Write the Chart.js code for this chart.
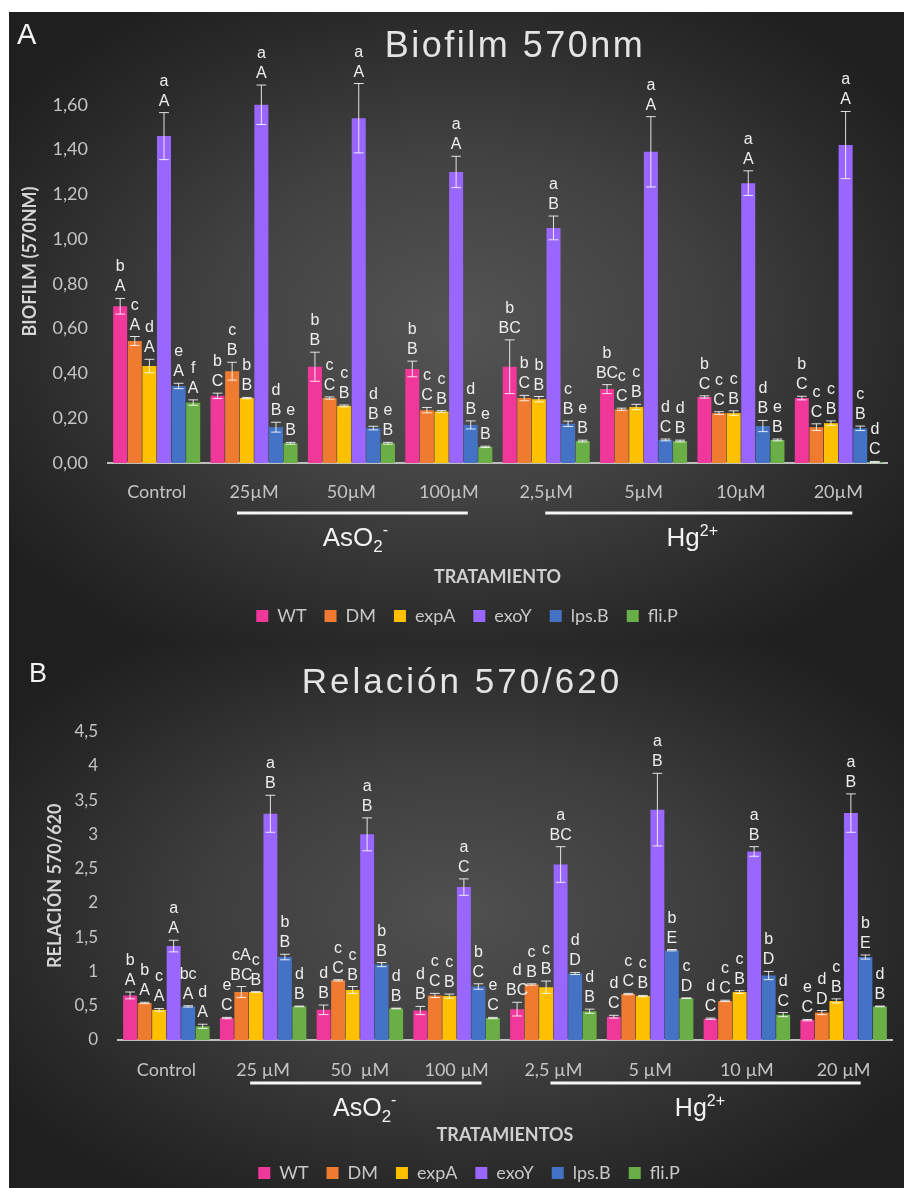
<!DOCTYPE html>
<html>
<head>
<meta charset="utf-8">
<script src="https://cdn.jsdelivr.net/npm/chart.js@4.4.1/dist/chart.umd.min.js"></script>
<style>
html, body { margin: 0; padding: 0; background: #fff; width: 904px; height: 1188px; overflow: hidden; position: relative; }
.bg { position: absolute; left: 9px; width: 895px; }
#bgA { top: 12px; height: 628px; background: radial-gradient(ellipse 62% 62% at 50% 50%, #545454 0%, #414141 45%, #2a2a2a 80%, #1f1f1f 100%); }
#bgB { top: 640px; height: 548px; background: radial-gradient(ellipse 62% 62% at 50% 50%, #505050 0%, #3e3e3e 45%, #292929 80%, #1f1f1f 100%); }
canvas { position: absolute; left: 9px; }
#chartA { top: 12px; }
#chartB { top: 640px; }
</style>
</head>
<body>
<div class="bg" id="bgA"></div>
<div class="bg" id="bgB"></div>
<canvas id="chartA" width="922" height="628"></canvas>
<canvas id="chartB" width="922" height="556"></canvas>
<script>
// ---- data ----
var seriesNames = ['WT', 'DM', 'expA', 'exoY', 'lps.B', 'fli.P'];

// A: Biofilm 570nm
var catsA = ['Control', '25µM', '50µM', '100µM', '2,5µM', '5µM', '10µM', '20µM'];
var wtA   = [0.70, 0.30, 0.43, 0.42, 0.43, 0.33, 0.295, 0.29];
var dmA   = [0.545, 0.41, 0.29, 0.236, 0.29, 0.24, 0.223, 0.16];
var expA  = [0.433, 0.29, 0.255, 0.23, 0.285, 0.25, 0.223, 0.178];
var exoA  = [1.46, 1.60, 1.54, 1.30, 1.05, 1.39, 1.25, 1.42];
var lpsA  = [0.344, 0.16, 0.156, 0.17, 0.175, 0.103, 0.165, 0.155];
var fliA  = [0.27, 0.088, 0.088, 0.072, 0.098, 0.098, 0.103, 0.005];
var wtErrA  = [0.035, 0.012, 0.065, 0.035, 0.12, 0.02, 0.005, 0.008];
var dmErrA  = [0.02, 0.04, 0.005, 0.012, 0.012, 0.005, 0.006, 0.015];
var expErrA = [0.03, 0.003, 0.004, 0.004, 0.012, 0.012, 0.01, 0.01];
var exoErrA = [0.105, 0.088, 0.155, 0.07, 0.053, 0.157, 0.055, 0.15];
var lpsErrA = [0.012, 0.022, 0.008, 0.018, 0.012, 0.004, 0.025, 0.01];
var fliErrA = [0.012, 0.004, 0.004, 0.003, 0.004, 0.004, 0.004, 0.002];
var wtSigA  = ['b/A', 'b/C', 'b/B', 'b/B', 'b/BC', 'b/BC', 'b/C', 'b/C'];
var dmSigA  = ['c/A', 'c/B', 'c/C', 'c/C', 'b/C', 'c/C', 'c/C', 'c/C'];
var expSigA = ['d/A', 'b/B', 'c/B', 'c/B', 'b/B', 'c/B', 'c/B', 'c/B'];
var exoSigA = ['a/A', 'a/A', 'a/A', 'a/A', 'a/B', 'a/A', 'a/A', 'a/A'];
var lpsSigA = ['e/A', 'd/B', 'd/B', 'd/B', 'c/B', 'd/C', 'd/B', 'c/B'];
var fliSigA = ['f/A', 'e/B', 'e/B', 'e/B', 'e/B', 'd/B', 'e/B', 'd/C'];

// B: Relación 570/620
var catsB = ['Control', '25 µM', '50  µM', '100 µM', '2,5 µM', '5 µM', '10 µM', '20 µM'];
var wtB   = [0.65, 0.32, 0.44, 0.43, 0.45, 0.34, 0.31, 0.29];
var dmB   = [0.54, 0.70, 0.87, 0.65, 0.81, 0.67, 0.57, 0.40];
var expB  = [0.44, 0.70, 0.73, 0.64, 0.77, 0.64, 0.70, 0.57];
var exoB  = [1.37, 3.30, 3.00, 2.23, 2.56, 3.36, 2.75, 3.31];
var lpsB  = [0.49, 1.21, 1.10, 0.78, 0.97, 1.31, 0.94, 1.21];
var fliB  = [0.20, 0.49, 0.46, 0.32, 0.42, 0.61, 0.37, 0.49];
var wtErrB  = [0.05, 0.01, 0.07, 0.06, 0.10, 0.02, 0.01, 0.01];
var dmErrB  = [0.01, 0.08, 0.01, 0.03, 0.01, 0.01, 0.01, 0.03];
var expErrB = [0.02, 0.005, 0.05, 0.03, 0.09, 0.01, 0.02, 0.03];
var exoErrB = [0.085, 0.27, 0.24, 0.12, 0.26, 0.53, 0.07, 0.28];
var lpsErrB = [0.01, 0.04, 0.03, 0.04, 0.015, 0.01, 0.06, 0.03];
var fliErrB = [0.03, 0.005, 0.005, 0.01, 0.03, 0.005, 0.03, 0.005];
var wtSigB  = ['b/A', 'e/C', 'd/B', 'd/B', 'd/BC', 'd/C', 'd/C', 'e/C'];
var dmSigB  = ['b/A', 'cA/BC', 'c/C', 'c/C', 'c/B', 'c/C', 'c/C', 'd/D'];
var expSigB = ['c/A', 'c/B', 'c/B', 'c/B', 'c/B', 'c/B', 'c/B', 'c/B'];
var exoSigB = ['a/A', 'a/B', 'a/B', 'a/C', 'a/BC', 'a/B', 'a/B', 'a/B'];
var lpsSigB = ['bc/A', 'b/B', 'b/B', 'b/C', 'd/D', 'b/E', 'b/D', 'b/E'];
var fliSigB = ['d/A', 'd/B', 'd/B', 'e/C', 'd/B', 'c/D', 'd/C', 'd/B'];

// ---- styling ----
var barColors = ['#F0379A', '#EE7B30', '#FFC000', '#9966FF', '#4472C4', '#6AAF45'];
Chart.defaults.font.family = 'Lato';
Chart.defaults.color = '#bfbfbf';

function makeSets(vals, errs, sigs) {
    return seriesNames.map(function (n, i) {
        return {
            label: n,
            data: vals[i],
            errors: errs[i],
            sig: sigs[i],
            backgroundColor: barColors[i],
            borderWidth: 0,
            categoryPercentage: 0.9,
            barPercentage: 0.96
        };
    });
}

// draws a run of text pieces (for sub/superscripts) centred on cx
function drawPieces(ctx, pieces, cx, base) {
    var total = 0;
    pieces.forEach(function (p) {
        ctx.font = p.size + 'px "Liberation Sans", Arial, sans-serif';
        p.w = ctx.measureText(p.t).width;
        total += p.w;
    });
    var x = cx - total / 2;
    ctx.textAlign = 'left';
    pieces.forEach(function (p) {
        ctx.font = p.size + 'px "Liberation Sans", Arial, sans-serif';
        ctx.fillText(p.t, x, base + p.dy);
        x += p.w;
    });
}

var extras = {
    id: 'extras',
    afterDatasetsDraw: function (chart) {
        var ctx = chart.ctx;
        var y = chart.scales.y;
        chart.data.datasets.forEach(function (ds, i) {
            var meta = chart.getDatasetMeta(i);
            meta.data.forEach(function (bar, j) {
                var v = ds.data[j], e = ds.errors[j];
                var yTop = y.getPixelForValue(v + e);
                var yBot = y.getPixelForValue(v - e);
                var cw = bar.width * 0.35;
                ctx.save();
                ctx.strokeStyle = 'rgba(255,255,255,0.85)';
                ctx.lineWidth = 1;
                ctx.beginPath();
                ctx.moveTo(bar.x, yTop); ctx.lineTo(bar.x, yBot);
                ctx.moveTo(bar.x - cw, yTop); ctx.lineTo(bar.x + cw, yTop);
                ctx.moveTo(bar.x - cw, yBot); ctx.lineTo(bar.x + cw, yBot);
                ctx.stroke();
                var parts = ds.sig[j].split('/');
                ctx.fillStyle = '#eeeeee';
                ctx.font = '16px "Liberation Sans", Arial, sans-serif';
                ctx.textAlign = 'center';
                ctx.textBaseline = 'alphabetic';
                ctx.fillText(parts[1], bar.x, yTop - 7);
                ctx.fillText(parts[0], bar.x, yTop - 27);
                ctx.restore();
            });
        });
    },
    afterDraw: function (chart, args, o) {
        var ctx = chart.ctx;
        var x = chart.scales.x;
        var w = x.width / chart.data.labels.length;
        var c = function (k) { return x.getPixelForValue(k); };
        var bottom = chart.chartArea.bottom;
        ctx.save();
        ctx.fillStyle = '#f2f2f2';
        ctx.textBaseline = 'alphabetic';
        // panel letter
        ctx.textAlign = 'left';
        ctx.font = o.letterSize + 'px "Liberation Sans", Arial, sans-serif';
        ctx.fillText(o.letter, o.letterX, o.letterY);
        // title
        ctx.fillStyle = '#e4e4e4';
        ctx.textAlign = 'center';
        ctx.font = o.titleSize + 'px "Liberation Sans", Arial, sans-serif';
        ctx.letterSpacing = o.titleSpacing + 'px';
        ctx.fillText(o.title, o.titleX, o.titleY);
        ctx.letterSpacing = '0px';
        // group underlines
        ctx.strokeStyle = '#f5f5f5';
        ctx.lineWidth = 3;
        ctx.beginPath();
        ctx.moveTo(c(1) + o.as[0] * w, bottom + o.lineDy);
        ctx.lineTo(c(3) + o.as[1] * w, bottom + o.lineDy);
        ctx.moveTo(c(4) + o.hg[0] * w, bottom + o.lineDy);
        ctx.lineTo(c(7) + o.hg[1] * w, bottom + o.lineDy);
        ctx.stroke();
        // group labels
        ctx.fillStyle = '#f2f2f2';
        var base = bottom + o.groupDy;
        drawPieces(ctx, [
            { t: 'AsO', size: o.groupSize, dy: 0 },
            { t: '2', size: 17, dy: 6 },
            { t: '-', size: 16, dy: -11 }
        ], c(2) + o.asLabel * w, base);
        drawPieces(ctx, [
            { t: 'Hg', size: o.groupSize, dy: 0 },
            { t: '2+', size: 16, dy: -10 }
        ], (c(4) + c(7)) / 2 + o.hgLabel * w, base);
        ctx.restore();
    }
};

function makeChart(id, cats, sets, cfg) {
    return new Chart(document.getElementById(id), {
        type: 'bar',
        data: { labels: cats, datasets: sets },
        plugins: [extras],
        options: {
            responsive: false,
            animation: false,
            layout: { padding: cfg.padding },
            scales: {
                x: {
                    grid: { display: false },
                    border: { display: true, color: '#bfbfbf', width: 2 },
                    ticks: { font: { size: 18 }, color: '#c4c4c4', padding: cfg.xTickPad, maxRotation: 0, autoSkip: false },
                    title: { display: true, text: cfg.xTitle, color: '#cfcfcf', font: { size: 18, weight: 'bold' }, padding: { top: 0, bottom: cfg.xTitlePad } },
                    afterFit: function (s) { s.height = cfg.xHeight; }
                },
                y: {
                    min: 0,
                    max: cfg.yMax,
                    grid: { display: false, drawTicks: false },
                    border: { display: false },
                    ticks: { stepSize: cfg.step, padding: 20, font: { size: cfg.yTickSize }, color: '#c4c4c4', callback: cfg.fmt },
                    title: { display: true, text: cfg.yTitle, color: '#d4d4d4', font: { size: 18, weight: 'bold' }, padding: { top: cfg.yTitlePad, bottom: 0 } },
                    afterFit: function (s) { s.width = cfg.yWidth; }
                }
            },
            plugins: {
                legend: {
                    position: 'bottom',
                    labels: { boxWidth: 12, boxHeight: 12, padding: 18, color: '#c8c8c8', font: { size: 18 } }
                },
                tooltip: { enabled: false },
                extras: cfg.extras
            }
        }
    });
}

makeChart('chartA', catsA,
    makeSets([wtA, dmA, expA, exoA, lpsA, fliA],
             [wtErrA, dmErrA, expErrA, exoErrA, lpsErrA, fliErrA],
             [wtSigA, dmSigA, expSigA, exoSigA, lpsSigA, fliSigA]), {
    padding: { left: 38, right: 44, top: 48, bottom: 5 },
    yMax: 1.8, step: 0.2, yTickSize: 18, yWidth: 61, yTitlePad: -28,
    yTitle: 'BIOFILM (570NM)',
    fmt: function (v) { return v > 1.7 ? '' : v.toFixed(2).replace('.', ','); },
    xTitle: 'TRATAMIENTO', xHeight: 126, xTickPad: 10, xTitlePad: 1,
    extras: {
        letter: 'A', letterSize: 29, letterX: 8, letterY: 32,
        title: 'Biofilm 570nm', titleSize: 36, titleSpacing: 2.5, titleX: 506, titleY: 45,
        as: [-0.175, 0.195], hg: [-0.01, 0.144], lineDy: 50,
        groupDy: 83, groupSize: 26, asLabel: 0.04, hgLabel: 0
    }
});

makeChart('chartB', catsB,
    makeSets([wtB, dmB, expB, exoB, lpsB, fliB],
             [wtErrB, dmErrB, expErrB, exoErrB, lpsErrB, fliErrB],
             [wtSigB, dmSigB, expSigB, exoSigB, lpsSigB, fliSigB]), {
    padding: { left: 37, right: 39, top: 91.5, bottom: 4 },
    yMax: 4.5, step: 0.5, yTickSize: 17, yWidth: 72, yTitlePad: -2,
    yTitle: 'RELACIÓN 570/620',
    fmt: function (v) { return String(Math.round(v * 10) / 10).replace('.', ','); },
    xTitle: 'TRATAMIENTOS', xHeight: 106, xTickPad: 11, xTitlePad: 0,
    extras: {
        letter: 'B', letterSize: 27, letterX: 20, letterY: 42,
        title: 'Relación 570/620', titleSize: 35, titleSpacing: 3, titleX: 453, titleY: 53,
        as: [-0.134, 0.258], hg: [-0.03, 0.176], lineDy: 43,
        groupDy: 76, groupSize: 25, asLabel: 0.05, hgLabel: 0.015
    }
});
</script>
</body>
</html>
